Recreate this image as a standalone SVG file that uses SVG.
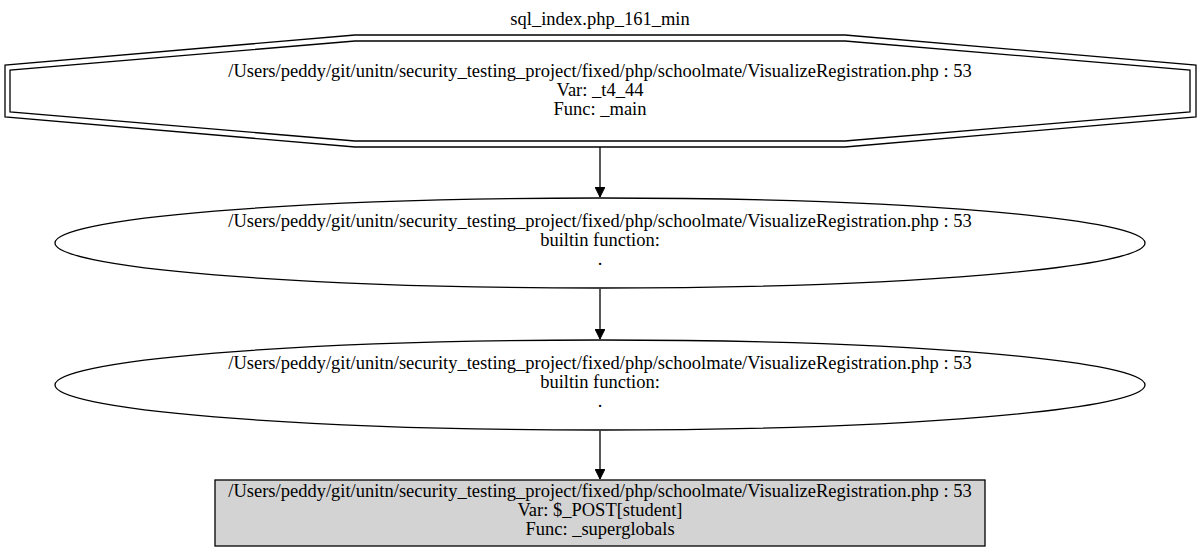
<svg xmlns="http://www.w3.org/2000/svg" width="1201" height="552" viewBox="0 0 1201 552">
  <style>
    text { font-family: "Liberation Serif", "Times New Roman", serif; font-size: 18.5px; fill: #000; text-anchor: middle; }
    .shape { fill: #fff; stroke: #000; stroke-width: 1.3; }
    .edge { fill: none; stroke: #000; stroke-width: 1.3; }
  </style>
  <defs>
    <marker id="arrow" markerWidth="10" markerHeight="10" refX="10" refY="5" orient="auto" markerUnits="userSpaceOnUse">
      <path d="M0,0 L10,5 L0,10 Z" fill="#000" stroke="#000"/>
    </marker>
  </defs>
  <rect width="1201" height="552" fill="#fff"/>
  <text x="600" y="25">sql_index.php_161_min</text>

  <g id="node1">
    <polygon class="shape" points="1196,65 1196,117 845,147 355,147 5,117 5,65 355,35 845,35"/>
    <polygon class="shape" fill="none" points="1190,70 1190,112 845,141 355,141 10,112 10,70 355,41 845,41"/>
    <text x="600" y="77.3">/Users/peddy/git/unitn/security_testing_project/fixed/php/schoolmate/VisualizeRegistration.php : 53</text>
    <text x="600" y="96">Var: _t4_44</text>
    <text x="600" y="114.7">Func: _main</text>
  </g>

  <g id="node2">
    <ellipse class="shape" cx="600" cy="243" rx="545" ry="45"/>
    <text x="600" y="227.3">/Users/peddy/git/unitn/security_testing_project/fixed/php/schoolmate/VisualizeRegistration.php : 53</text>
    <text x="600" y="246">builtin function:</text>
    <text x="600" y="264.7">.</text>
  </g>

  <g id="node3">
    <ellipse class="shape" cx="600" cy="385" rx="545" ry="45"/>
    <text x="600" y="369.3">/Users/peddy/git/unitn/security_testing_project/fixed/php/schoolmate/VisualizeRegistration.php : 53</text>
    <text x="600" y="388">builtin function:</text>
    <text x="600" y="406.7">.</text>
  </g>

  <g id="node4">
    <rect x="215" y="480" width="770" height="66" fill="#d3d3d3" stroke="#000" stroke-width="1.3"/>
    <text x="600" y="497.3">/Users/peddy/git/unitn/security_testing_project/fixed/php/schoolmate/VisualizeRegistration.php : 53</text>
    <text x="600" y="516">Var: $_POST[student]</text>
    <text x="600" y="534.7">Func: _superglobals</text>
  </g>

  <g id="connectors">
    <line class="edge" x1="600" y1="147" x2="600" y2="197" marker-end="url(#arrow)"/>
    <line class="edge" x1="600" y1="289" x2="600" y2="339" marker-end="url(#arrow)"/>
    <line class="edge" x1="600" y1="431" x2="600" y2="479" marker-end="url(#arrow)"/>
  </g>
</svg>
